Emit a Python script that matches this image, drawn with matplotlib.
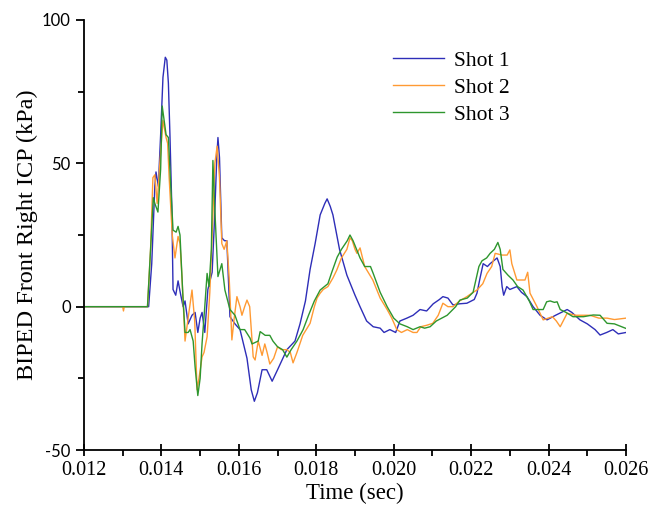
import matplotlib
matplotlib.use("Agg")
import matplotlib.pyplot as plt
from matplotlib.ticker import MultipleLocator, FormatStrFormatter

plt.rcParams["axes.unicode_minus"] = False

# ---------------- data ----------------
t1 = [0.01200, 0.01367, 0.01375, 0.01383, 0.01386, 0.01392, 0.01398, 0.01404, 0.01410, 0.01414,
      0.01418, 0.01422, 0.01427, 0.01430, 0.01437, 0.01443, 0.01450, 0.01456, 0.01461, 0.01469,
      0.01479, 0.01487, 0.01494, 0.01500, 0.01505, 0.01512, 0.01520, 0.01531, 0.01537, 0.01543,
      0.01546, 0.01550, 0.01556, 0.01563, 0.01569, 0.01577, 0.01590, 0.01603, 0.01621, 0.01632,
      0.01640, 0.01648, 0.01660, 0.01672, 0.01686, 0.01700, 0.01724, 0.01745, 0.01758, 0.01772,
      0.01784, 0.01797, 0.01810, 0.01822, 0.01828, 0.01836, 0.01843, 0.01860, 0.01879, 0.01900,
      0.01913, 0.01930, 0.01947, 0.01965, 0.01975, 0.01990, 0.02005, 0.02016, 0.02034, 0.02050,
      0.02068, 0.02085, 0.02102, 0.02118, 0.02127, 0.02140, 0.02153, 0.02170, 0.02189, 0.02208,
      0.02215, 0.02223, 0.02231, 0.02242, 0.02249, 0.02258, 0.02267, 0.02275, 0.02280, 0.02284,
      0.02292, 0.02300, 0.02318, 0.02330, 0.02344, 0.02360, 0.02378, 0.02396, 0.02418, 0.02448,
      0.02460, 0.02481, 0.02500, 0.02520, 0.02533, 0.02550, 0.02566, 0.02580, 0.02600]
shot1 = [0, 0, 15, 42, 47, 42, 60, 80, 87, 86,
         78, 60, 34, 6, 4, 9, 4, 0, 2, -6,
         -3, -2, -9, -4, -2, -9, 6, 12, 30, 52,
         59, 52, 24, 23, 23, -3.5, -6, -8, -18, -29,
         -33, -30, -22, -22, -26, -22, -15, -12, -6, 2,
         13, 22, 32, 36, 37.6, 35, 32, 20, 11, 4,
         0, -5, -7, -7.5, -9, -8, -9, -5, -4, -3,
         -1, -1.5, 1, 2.5, 3.5, 3, 0.6, 1, 1.2, 2.5,
         4.7, 10, 15, 14, 15, 16, 17, 14, 7, 4,
         7, 6, 7, 5, 3.5, 0, -3, -4.6, -3, -1,
         -2, -4.6, -6, -8, -9.9, -9, -8, -9.5, -9]

t2 = [0.01200, 0.01300, 0.01302, 0.01304, 0.01364, 0.01372, 0.01378, 0.01383, 0.01389, 0.01396,
      0.01404, 0.01412, 0.01416, 0.01420, 0.01428, 0.01435, 0.01443, 0.01448, 0.01453, 0.01461,
      0.01469, 0.01479, 0.01486, 0.01492, 0.01497, 0.01505, 0.01510, 0.01518, 0.01525, 0.01531,
      0.01538, 0.01544, 0.01550, 0.01556, 0.01562, 0.01569, 0.01575, 0.01582, 0.01588, 0.01595,
      0.01603, 0.01608, 0.01615, 0.01621, 0.01628, 0.01637, 0.01642, 0.01650, 0.01660, 0.01667,
      0.01673, 0.01680, 0.01690, 0.01700, 0.01710, 0.01724, 0.01733, 0.01740, 0.01750, 0.01765,
      0.01784, 0.01795, 0.01802, 0.01810, 0.01818, 0.01830, 0.01843, 0.01853, 0.01865, 0.01879,
      0.01887, 0.01893, 0.01900, 0.01905, 0.01913, 0.01925, 0.01946, 0.01965, 0.01983, 0.01995,
      0.02008, 0.02020, 0.02035, 0.02050, 0.02060, 0.02070, 0.02085, 0.02101, 0.02115, 0.02127,
      0.02140, 0.02153, 0.02170, 0.02189, 0.02205, 0.02215, 0.02230, 0.02241, 0.02253, 0.02262,
      0.02280, 0.02293, 0.02300, 0.02305, 0.02318, 0.02339, 0.02346, 0.02352, 0.02370, 0.02386,
      0.02410, 0.02420, 0.02430, 0.02448, 0.02470, 0.02507, 0.02530, 0.02551, 0.02570, 0.02600]
shot2 = [0, 0, -1.5, 0, 0, 20, 45, 46, 36, 50,
         65, 59, 57, 45, 25, 17, 24.5, 22, 10.5, -12,
         -4, 5.8, -5, -29, -25, -17.5, -16, -10.5, 5, 25,
         50, 56, 45, 22, 20, 23, 10, -11.6, -4, 3.5,
         0, -3, 0, 2.3, 0, -17.5, -18.6, -12, -17, -13,
         -16, -20, -18, -14, -15, -15, -16, -19.6, -16, -10,
         -5.8, 0, 3, 4.7, 6, 7, 10, 12.8, 17, 20,
         24, 23, 20, 18.6, 20.5, 14, 9.3, 3, -1, -4,
         -8, -9, -8, -9, -9, -7, -6.5, -5.8, -3, 1.2,
         0, 0, 2, 3.5, 5, 5.8, 8, 11.6, 14, 18.6,
         18, 18, 19.8, 15, 9.3, 9.3, 12, 4.7, 0, -4.6,
         -3.5, -5, -7, -2.3, -3, -3, -4, -4, -4.5, -4]

t3 = [0.01200, 0.01364, 0.01372, 0.01379, 0.01383, 0.01391, 0.01398, 0.01402, 0.01406, 0.01412,
      0.01418, 0.01423, 0.01430, 0.01438, 0.01443, 0.01448, 0.01455, 0.01461, 0.01469, 0.01474,
      0.01482, 0.01487, 0.01494, 0.01500, 0.01505, 0.01512, 0.01518, 0.01523, 0.01529, 0.01533,
      0.01538, 0.01546, 0.01556, 0.01564, 0.01577, 0.01590, 0.01603, 0.01615, 0.01629, 0.01634,
      0.01650, 0.01655, 0.01668, 0.01680, 0.01688, 0.01700, 0.01713, 0.01724, 0.01735, 0.01750,
      0.01766, 0.01780, 0.01795, 0.01810, 0.01830, 0.01840, 0.01854, 0.01865, 0.01880, 0.01887,
      0.01895, 0.01913, 0.01925, 0.01940, 0.01947, 0.01965, 0.01983, 0.02000, 0.02016, 0.02035,
      0.02050, 0.02068, 0.02080, 0.02094, 0.02110, 0.02138, 0.02160, 0.02171, 0.02190, 0.02205,
      0.02220, 0.02228, 0.02240, 0.02249, 0.02260, 0.02269, 0.02275, 0.02282, 0.02295, 0.02308,
      0.02320, 0.02334, 0.02350, 0.02360, 0.02375, 0.02386, 0.02395, 0.02404, 0.02415, 0.02422,
      0.02430, 0.02445, 0.02463, 0.02490, 0.02515, 0.02533, 0.02551, 0.02570, 0.02600]
shot3 = [0, 0, 20, 38, 36, 33, 48, 70, 66, 60,
         59, 45, 26.7, 26, 28, 25, 5, -9, -9, -8,
         -12, -21, -31, -25, -12.8, 0, 11.6, 7, 20, 51,
         33.7, 10.5, 15, 5.8, -1, -3, -8, -8, -11, -13,
         -12, -8.7, -10, -10, -12, -14, -15, -17.6, -15, -12,
         -8, -3, 2, 5.8, 8, 12, 17.3, 20, 23, 25,
         23, 17, 14, 14, 11.6, 5, 0, -4, -6, -7,
         -8, -7, -7.5, -7, -5, -3, 0, 2.3, 3, 5,
         14, 16, 17, 18.6, 20, 22.4, 20, 13, 11, 9.3,
         7, 5.8, 2, -1, -1, -1, 1.7, 2, 1.5, 1.7,
         -1, -2, -3.5, -3.5, -2.9, -3, -5.8, -6, -7.6]

labels = ["Shot 1", "Shot 2", "Shot 3"]
colors = ["#2e2eb8", "#ff9a33", "#2e962e"]

x_ticks = [0.012, 0.014, 0.016, 0.018, 0.020, 0.022, 0.024, 0.026]
y_ticks = [-50, 0, 50, 100]

# ---------------- figure ----------------
fig = plt.figure(figsize=(6.49, 5.14), dpi=100)
ax = fig.add_axes([0.1294, 0.1245, 0.8352, 0.8366])

for t, y, lab, c in zip([t1, t2, t3], [shot1, shot2, shot3], labels, colors):
    ax.plot(t, y, color=c, lw=1.0, label=lab)

ax.set_xlim(0.012, 0.026)
ax.set_ylim(-50, 100)
ax.set_xticks(x_ticks)
ax.set_yticks(y_ticks)
ax.xaxis.set_major_formatter(FormatStrFormatter("%.3f"))
ax.xaxis.set_minor_locator(MultipleLocator(0.001))
ax.yaxis.set_minor_locator(MultipleLocator(25))

for s in ["top", "right"]:
    ax.spines[s].set_visible(False)
for s in ["left", "bottom"]:
    ax.spines[s].set_linewidth(1.3)

ax.tick_params(axis="x", which="major", direction="inout", length=9, width=1.3)
ax.tick_params(axis="x", which="minor", direction="out", length=4, width=1.3)
ax.tick_params(axis="y", which="major", direction="out", length=6, width=1.3)
ax.tick_params(axis="y", which="minor", direction="out", length=4, width=1.3)

for lbl in ax.get_xticklabels():
    lbl.set_fontfamily("Liberation Serif")
    lbl.set_fontsize(14.5)
for lbl in ax.get_yticklabels():
    lbl.set_fontfamily("Lato")
    lbl.set_fontsize(12)

ax.set_xlabel("Time (sec)", fontfamily="Liberation Serif", fontsize=16.5, labelpad=2)
ax.set_ylabel("BIPED Front Right ICP (kPa)", fontfamily="Liberation Serif", fontsize=17.5, labelpad=3)

leg = ax.legend(loc="upper left", bbox_to_anchor=(0.592, 0.918), bbox_transform=fig.transFigure,
                frameon=False, prop={"family": "Liberation Serif", "size": 15.5},
                handlelength=2.4, handletextpad=0.45, labelspacing=0.32, borderaxespad=0)

fig.savefig("out.png", dpi=100)
